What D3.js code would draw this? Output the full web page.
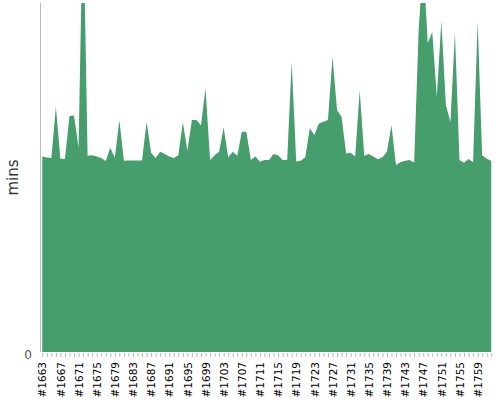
<!DOCTYPE html>
<html>
<head>
<meta charset="utf-8">
<script src="https://cdn.jsdelivr.net/npm/d3@7"></script>
<style>
  html, body { margin: 0; padding: 0; background: #fff; }
  svg { display: block; font-family: "DejaVu Sans", Verdana, sans-serif; }
</style>
</head>
<body>
<svg id="chart" width="500" height="400"></svg>
<script>
// Build numbers #1663 .. #1762
const firstBuild = 1663;
const values = [
  56.0, 55.7, 55.6, 70.2, 55.4, 55.3, 67.6, 67.8, 58.5, 128.1,
  56.2, 56.4, 56.0, 55.6, 54.7, 58.5, 55.6, 66.5, 54.8, 54.9,
  54.9, 54.9, 54.9, 65.9, 57.1, 55.6, 57.4, 56.7, 56.0, 55.6,
  56.4, 65.8, 57.7, 66.5, 66.5, 65.0, 75.6, 55.0, 56.4, 57.4,
  64.3, 55.8, 57.4, 56.2, 63.1, 63.1, 55.0, 56.0, 54.5, 55.0,
  55.0, 56.7, 56.4, 55.0, 55.0, 83.1, 54.6, 54.8, 55.8, 64.1,
  62.2, 65.5, 66.0, 66.5, 84.6, 69.3, 67.4, 56.9, 57.1, 56.0,
  74.9, 56.2, 56.7, 56.0, 55.2, 55.8, 57.4, 65.0, 53.6, 54.4,
  54.8, 55.0, 54.2, 92.3, 112.3, 88.5, 91.7, 73.1, 94.8, 70.8,
  65.9, 91.4, 55.0, 54.2, 55.3, 54.4, 94.8, 56.4, 55.4, 54.8
];
const categories = values.map((v, i) => "#" + (firstBuild + i));
const tickLabels = categories.filter((c, i) => i % 4 === 0);
const yTicks = [0];
const yLabel = "mins";

const svg = d3.select("#chart");
const plot = { left: 40, right: 493.5, top: 3, bottom: 352 };

const x = d3.scalePoint().domain(categories)
  .range([plot.left, plot.right]).padding(0.5);
const y = d3.scaleLinear().domain([0, 100]).range([plot.bottom, plot.top]);

svg.append("defs").append("clipPath").attr("id", "clip")
  .append("rect")
  .attr("x", plot.left).attr("y", plot.top)
  .attr("width", plot.right - plot.left)
  .attr("height", plot.bottom - plot.top);

const area = d3.area()
  .x((d, i) => x(categories[i]))
  .y0(y(0))
  .y1(d => y(d));

svg.append("path")
  .datum(values)
  .attr("clip-path", "url(#clip)")
  .attr("fill", "#459e6c")
  .attr("d", area);

// x axis
const xAxis = svg.append("g")
  .attr("transform", `translate(0,${plot.bottom + 1})`)
  .call(d3.axisBottom(x).tickSize(4).tickSizeOuter(0).tickFormat(d => tickLabels.includes(d) ? d : ""));
xAxis.select(".domain").remove();
xAxis.selectAll(".tick line").attr("stroke", "#bbb");
xAxis.selectAll(".tick text")
  .attr("transform", "rotate(-90)")
  .attr("text-anchor", "end")
  .attr("x", -9)
  .attr("y", 0)
  .attr("dy", "0.35em")
  .attr("fill", "#000")
  .style("font-size", "10.5px")
  .style("font-family", "DejaVu Sans");

// y axis
const yAxis = svg.append("g")
  .attr("transform", `translate(${plot.left},0)`)
  .call(d3.axisLeft(y).tickValues(yTicks).tickSize(0).tickPadding(8));
yAxis.select(".domain").attr("stroke", "#bbb").attr("d", `M0.5,${plot.top}V${plot.bottom}`);
yAxis.selectAll(".tick text")
  .attr("fill", "#555")
  .attr("dy", "0.52em")
  .style("font-size", "12px")
  .style("font-family", "DejaVu Sans");

svg.append("text")
  .attr("transform", `translate(18,${(plot.top + plot.bottom) / 2}) rotate(-90)`)
  .attr("text-anchor", "middle")
  .attr("fill", "#333")
  .style("font-size", "15px")
  .style("font-family", "DejaVu Sans")
  .text(yLabel);
</script>
</body>
</html>
